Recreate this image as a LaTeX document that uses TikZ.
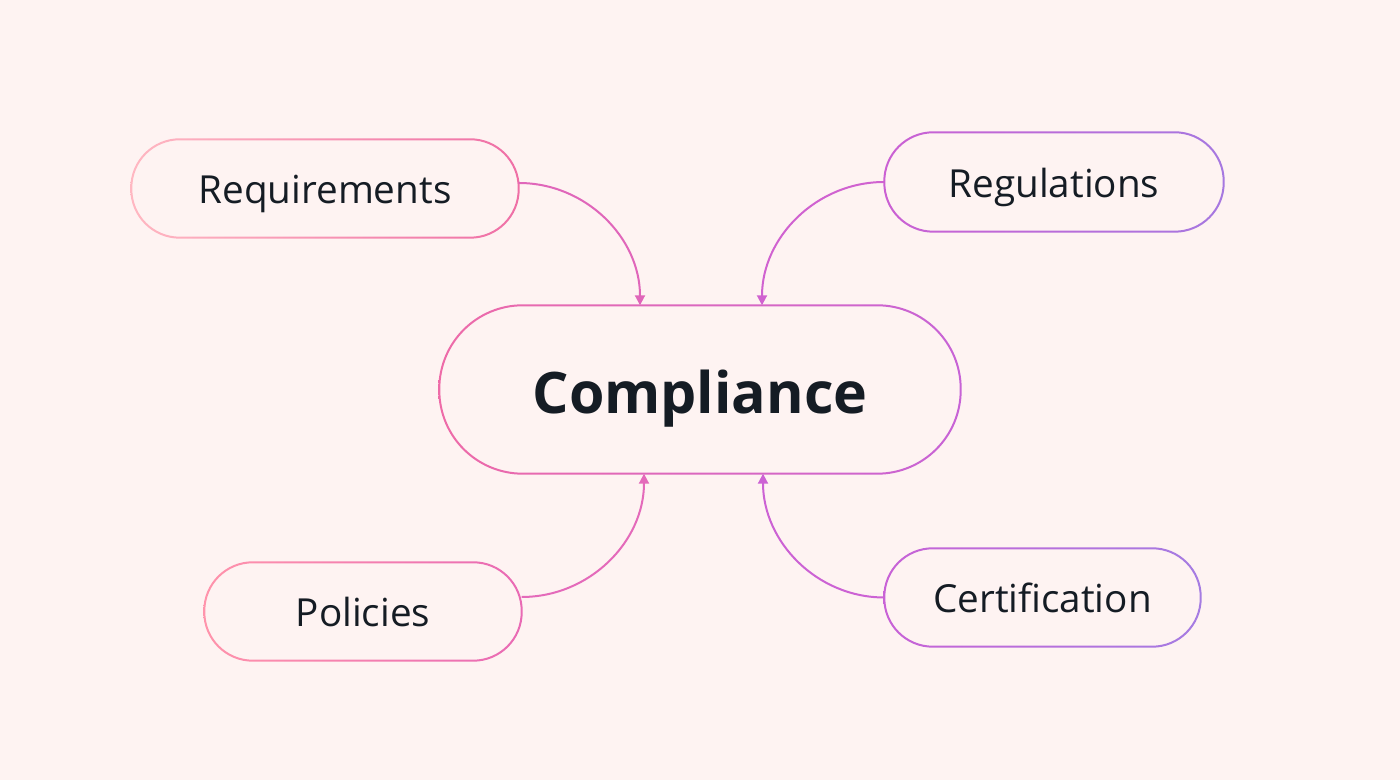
\documentclass[tikz,border=0pt]{standalone}
\usepackage{fontspec}
\setmainfont{Open Sans}
\usetikzlibrary{arrows.meta, calc}
\usepackage{xcolor}
\definecolor{bgpink}{HTML}{FEF3F2}
\definecolor{ink}{HTML}{151C24}
\definecolor{reqA}{HTML}{FFB8C2}
\definecolor{reqB}{HTML}{EF6FA6}
\definecolor{compA}{HTML}{EE6BA8}
\definecolor{compB}{HTML}{C763D6}
\definecolor{regA}{HTML}{CB60D3}
\definecolor{regB}{HTML}{A678E0}
\definecolor{polA}{HTML}{FF94AC}
\definecolor{polB}{HTML}{E96AB4}
\definecolor{certA}{HTML}{C862D6}
\definecolor{certB}{HTML}{A57CE2}

\begin{document}
\begin{tikzpicture}[>={Triangle[length=1mm, width=1mm]},
  pill/.style={inner sep=0pt, minimum height=0.97cm, text=ink, text height=0.31cm, text depth=0pt, font=\fontsize{11}{14}\selectfont},
  link/.style={->, line width=0.2mm}]
\fill[bgpink] (0,0) rectangle (14,7.8);
\useasboundingbox (0,0) rectangle (14,7.8);

\node[pill, minimum width=3.86cm] (req) at (3.25,5.915) {Requirements};
\node[pill, minimum width=3.38cm, minimum height=0.98cm] (reg) at (10.54,5.98) {Regulations};
\node[pill, minimum width=5.2cm, minimum height=1.67cm, text height=0.48cm, font=\fontsize{16.3}{20}\selectfont\bfseries] (comp) at (7,3.905) {Compliance};
\node[pill, minimum width=3.16cm] (pol) at (3.63,1.685) {Policies};
\node[pill, minimum width=3.15cm] (cert) at (10.425,1.825) {Certification};

% outlines, shaded left to right
\foreach \n/\r/\ca/\cb in {req/0.485/reqA/reqB, reg/0.49/regA/regB, comp/0.835/compA/compB, pol/0.485/polA/polB, cert/0.485/certA/certB} {
  \pgfmathsetmacro\ro{\r+0.01}
  \pgfmathsetmacro\ri{\r-0.01}
  \shade[left color=\ca, right color=\cb, even odd rule]
    [rounded corners=\ro cm] ($(\n.south west)+(-0.01,-0.01)$) rectangle ($(\n.north east)+(0.01,0.01)$)
    [rounded corners=\ri cm] ($(\n.south west)+(0.01,0.01)$) rectangle ($(\n.north east)+(-0.01,-0.01)$);
}

\draw[link, color={rgb,255:red,224;green,102;blue,186}] ($(req.east)+(0,0.055)$) to[out=0, in=90] ($(comp.north)+(-0.6,0)$);
\draw[link, color={rgb,255:red,208;green,98;blue,208}] (reg.west) to[out=180, in=90] ($(comp.north)+(0.62,0)$);
\draw[link, color={rgb,255:red,228;green,106;blue,186}] ($(pol.east)+(0,0.145)$) to[out=0, in=-90] ($(comp.south)+(-0.56,0)$);
\draw[link, color={rgb,255:red,204;green,98;blue,212}] (cert.west) to[out=180, in=-90] ($(comp.south)+(0.63,0)$);
\end{tikzpicture}
\end{document}
